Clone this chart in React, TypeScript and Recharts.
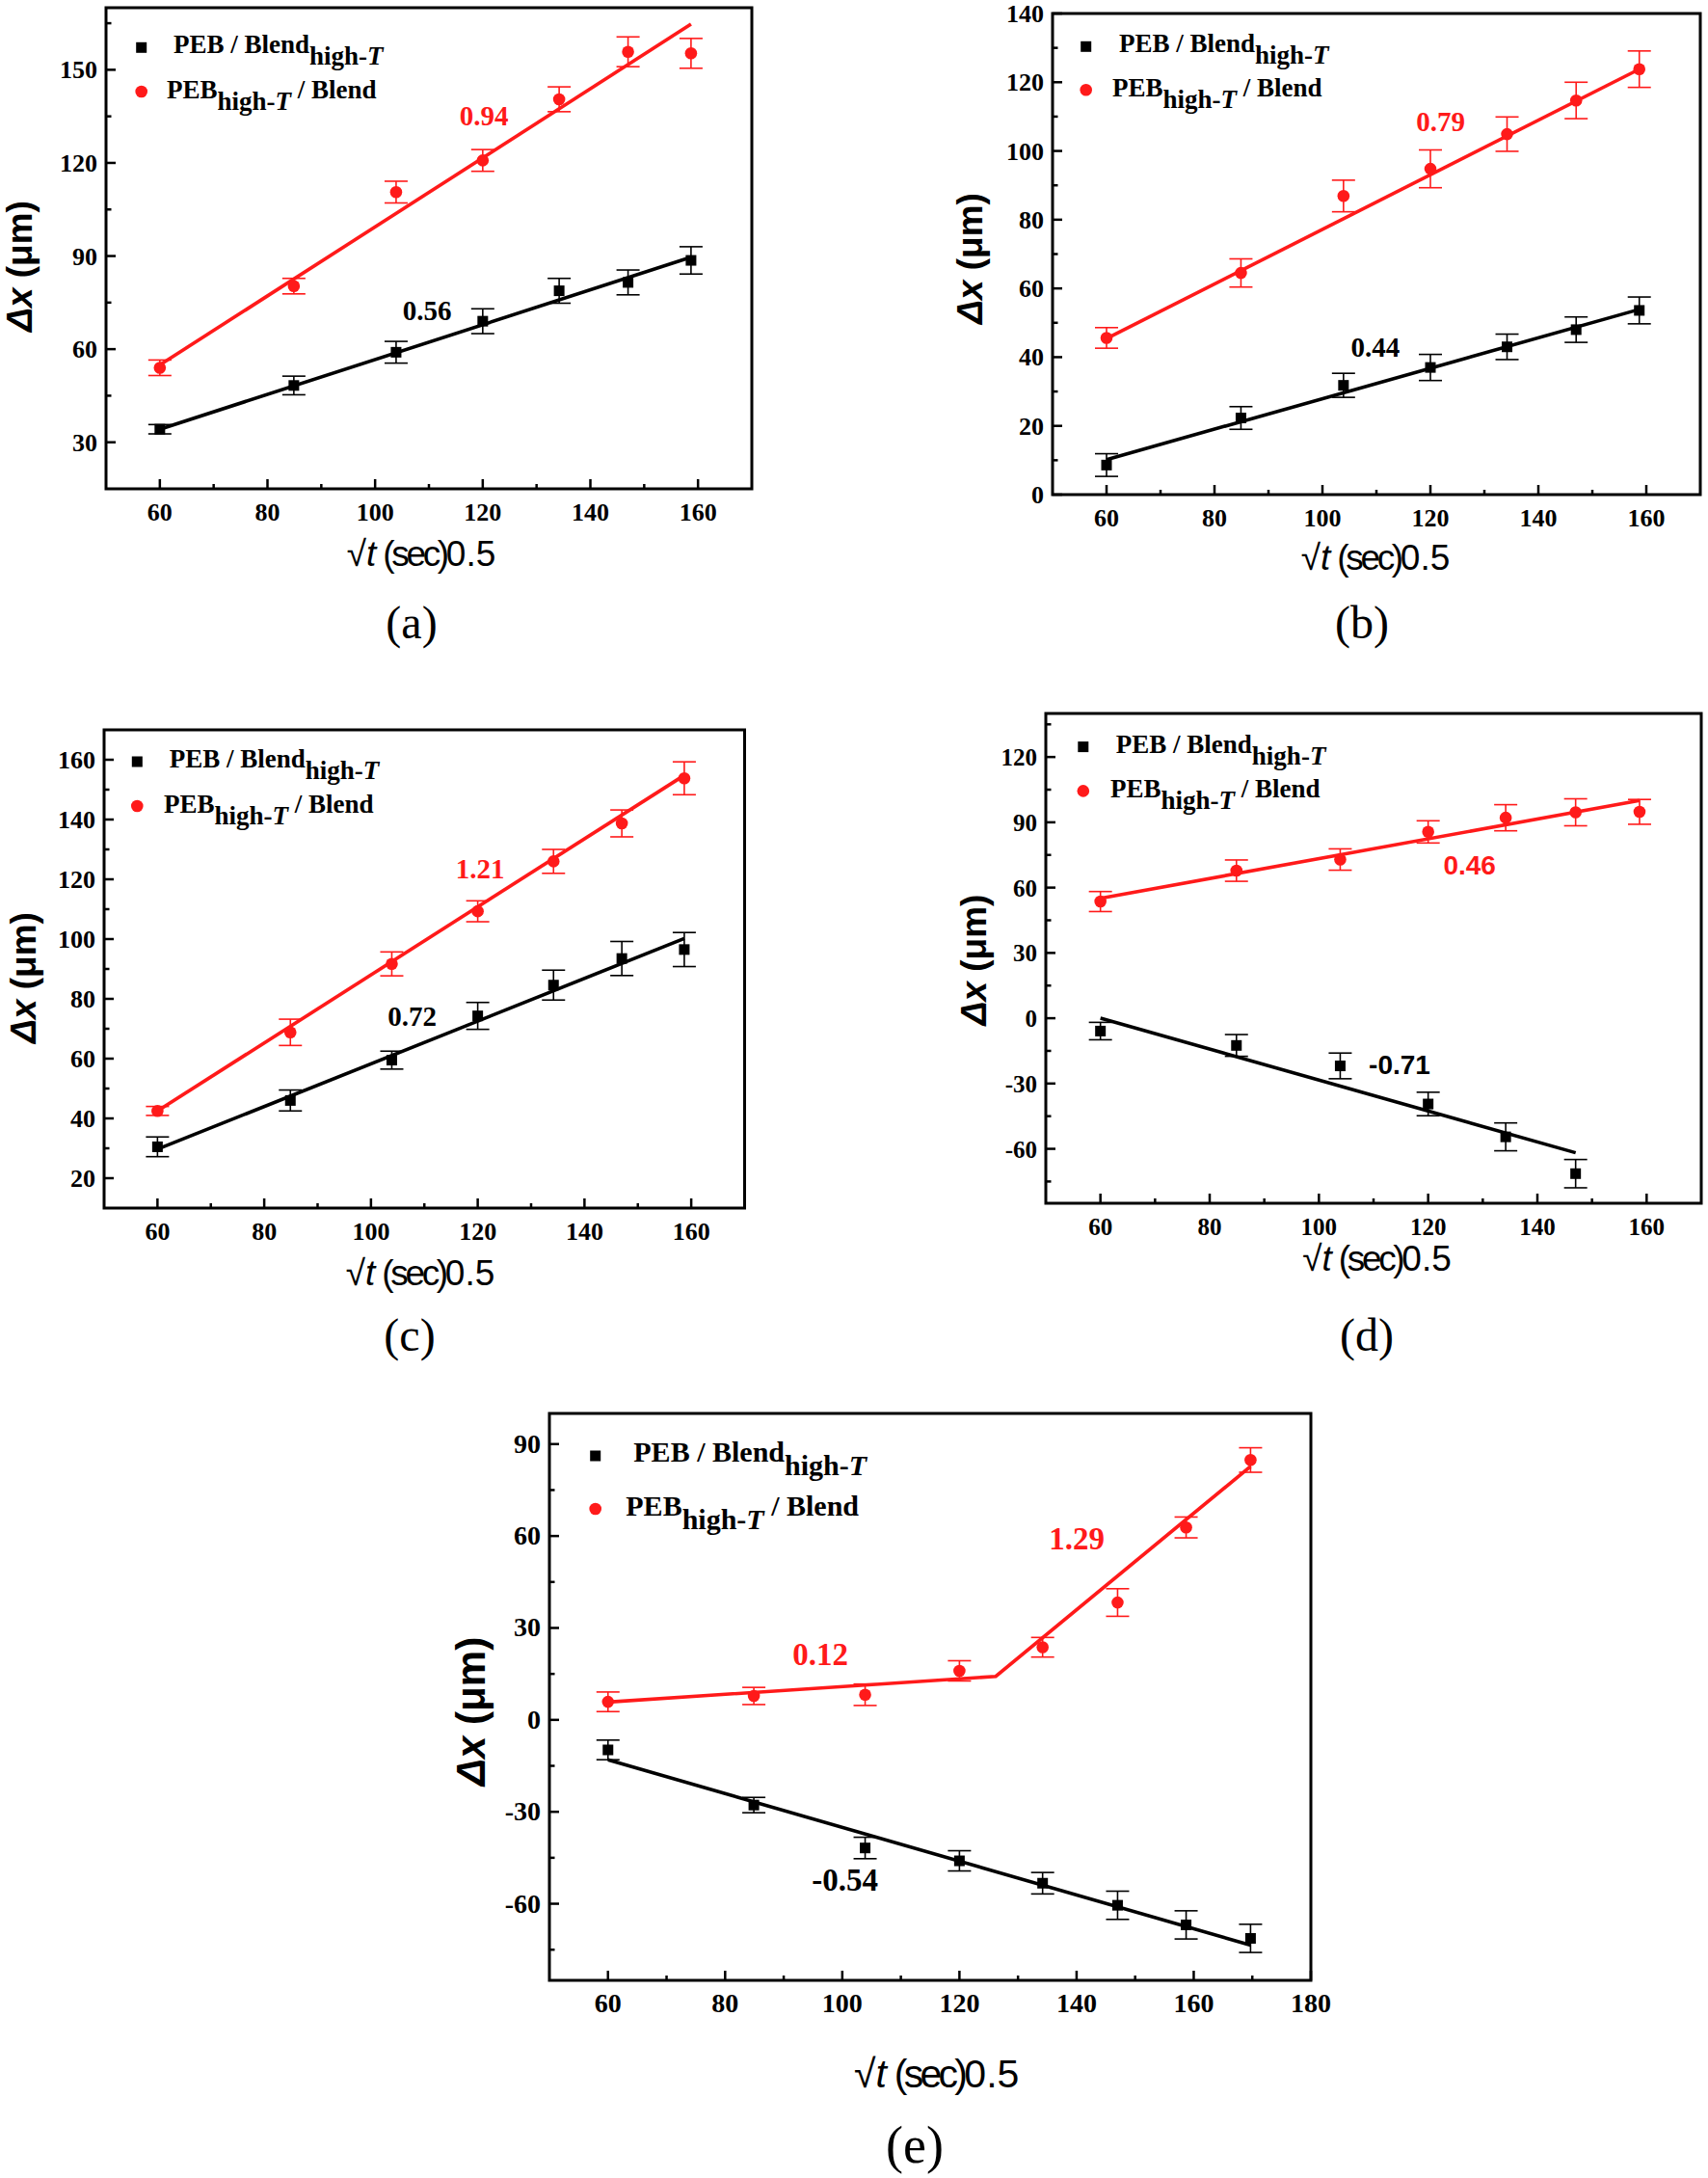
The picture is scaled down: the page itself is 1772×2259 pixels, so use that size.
import React from "react";
import {
  ComposedChart,
  Scatter,
  XAxis,
  YAxis,
  ErrorBar,
  ReferenceArea,
} from "recharts";

const RED = "#ff1a1a";
const SERIF = '"Liberation Serif", "Times New Roman", Times, serif';
const SANS = '"Liberation Sans", Arial, Helvetica, sans-serif';

// sqrt(t) positions, t = 1 h .. 8 h
const sqrtT = [60, 84.9, 103.9, 120, 134.2, 147, 158.7];
const sqrtT6 = [60, 84.9, 103.9, 120, 134.2, 147];
const sqrtT8 = [60, 84.9, 103.9, 120, 134.2, 147, 158.7, 169.7];

// (a)
const aBlack = [34.2, 48.3, 59.0, 69.0, 78.8, 81.5, 88.6];
const aBlackErr = [1.5, 3, 3.5, 4, 4, 4, 4.4];
const aRed = [54, 80.3, 110.6, 120.8, 140.5, 155.8, 155.3];
const aRedErr = [2.5, 2.5, 3.5, 3.5, 4, 4.8, 4.8];
const aFitX = [60, 158.7];
const aBlackFit = [34.2, 89.6];
const aRedFit = [54.9, 164.7];

// (b)
const bBlack = [8.6, 22.3, 31.8, 37, 43, 48, 53.6];
const bBlackErr = [3.3, 3.3, 3.5, 3.8, 3.7, 3.7, 3.9];
const bRed = [45.6, 64.5, 86.9, 94.8, 104.9, 114.7, 123.8];
const bRedErr = [3, 4.1, 4.6, 5.5, 5, 5.3, 5.3];
const bFitX = [60, 158.7];
const bBlackFit = [10.2, 53.9];
const bRedFit = [45.4, 123.8];

// (c)
const cBlack = [30.5, 46, 59.5, 74.3, 84.6, 93.5, 96.5];
const cBlackErr = [3.3, 3.5, 3, 4.5, 5, 5.7, 5.7];
const cRed = [42.5, 68.8, 91.7, 109.3, 126, 138.7, 153.8];
const cRedErr = [1.5, 4.4, 4, 3.5, 4, 4.5, 5.5];
const cFitX = [60, 158.7];
const cBlackFit = [29.7, 100.2];
const cRedFit = [42.5, 154.8];

// (d)
const dBlack = [-5.9, -12.5, -21.9, -39.4, -54.5, -71.4];
const dBlackErr = [4, 5, 5.9, 5.4, 6.4, 6.5];
const dRed = [53.6, 67.8, 72.9, 85.6, 92.1, 94.6, 94.8];
const dRedErr = [4.6, 4.9, 4.9, 5.1, 6, 6.2, 5.7];
const dBlackFitX = [60, 147];
const dBlackFit = [0, -61.8];
const dRedFitX = [60, 158.7];
const dRedFit = [55.1, 100];

// (e)
const eBlack = [-9.8, -27.8, -41.8, -46, -53.3, -60.5, -66.9, -71.3];
const eBlackErr = [3.2, 2.5, 3.5, 3.3, 3.5, 4.6, 4.6, 4.6];
const eRed = [5.9, 7.8, 8.2, 16, 23.7, 38.3, 62.8, 84.8];
const eRedErr = [3.2, 2.8, 3.5, 3.3, 3.2, 4.5, 3.4, 4];
const eBlackFitX = [60, 169.7];
const eBlackFit = [-13, -73.5];
const eRedFitX = [60, 126.2, 169.7];
const eRedFit = [5.8, 14.2, 82.7];

// ticks
const xMajor = [60, 80, 100, 120, 140, 160];
const xMinor = [70, 90, 110, 130, 150];
const eXMajor = [60, 80, 100, 120, 140, 160, 180];
const eXMinor = [70, 90, 110, 130, 150, 170];
const aYMajor = [30, 60, 90, 120, 150];
const aYMinor = [45, 75, 105, 135, 165];
const bYMajor = [0, 20, 40, 60, 80, 100, 120, 140];
const bYMinor = [10, 30, 50, 70, 90, 110, 130];
const cYMajor = [20, 40, 60, 80, 100, 120, 140, 160];
const cYMinor = [30, 50, 70, 90, 110, 130, 150];
const dYMajor = [-60, -30, 0, 30, 60, 90, 120];
const dYMinor = [-75, -45, -15, 15, 45, 75, 105, 135];
const eYMajor = [-60, -30, 0, 30, 60, 90];
const eYMinor = [-75, -45, -15, 15, 45, 75];

const pts = (xs: number[], ys: number[], es?: number[]) =>
  xs.map((x, i) => ({ x, y: ys[i], e: es ? es[i] : 0 }));

const square = (p: any) => (
  <rect x={p.cx - 5.5} y={p.cy - 5.5} width={11} height={11} fill="#000" />
);
const circle = (p: any) => <circle cx={p.cx} cy={p.cy} r={6.3} fill={RED} />;
const noDot = () => <g />;

function Panel(props: any) {
  const { box, xDomain, yDomain, xMaj, xMin, yMaj, yMin, fs } = props;
  const [x0, y0, x1, y1] = box;
  const mL = 80, mT = 14, mB = 60;
  const mR = props.mR ?? 4;
  const W = x1 - x0 + mL + mR;
  const H = y1 - y0 + mT + mB;
  const tickFont = { fontFamily: SERIF, fontWeight: 700, fontSize: fs };

  const xTick = (p: any) => {
    const major = xMaj.includes(p.payload.value);
    return (
      <g>
        <line x1={p.x} x2={p.x} y1={p.y} y2={p.y - (major ? 10 : 5)} stroke="#000" strokeWidth={2.5} />
        {major && (
          <text x={p.x} y={p.y + 33} textAnchor="middle" fill="#000" fontFamily={SERIF} fontWeight="bold" fontSize={fs} style={tickFont}>
            {p.payload.value}
          </text>
        )}
      </g>
    );
  };
  const yTick = (p: any) => {
    const major = yMaj.includes(p.payload.value);
    return (
      <g>
        <line x1={p.x} x2={p.x + (major ? 10 : 5.5)} y1={p.y} y2={p.y} stroke="#000" strokeWidth={2.5} />
        {major && (
          <text x={p.x - 9} y={p.y + 9} textAnchor="end" fill="#000" fontFamily={SERIF} fontWeight="bold" fontSize={fs} style={tickFont}>
            {p.payload.value}
          </text>
        )}
      </g>
    );
  };

  return (
    <div style={{ position: "absolute", left: x0 - mL, top: y0 - mT }}>
      <ComposedChart width={W} height={H} margin={{ top: mT, right: mR, left: 0, bottom: 0 }}>
        <XAxis
          type="number"
          dataKey="x"
          domain={xDomain}
          allowDataOverflow
          ticks={[...xMaj, ...xMin]}
          interval={0}
          height={mB}
          tickSize={0}
          tickMargin={0}
          axisLine={false}
          tickLine={false}
          tick={xTick}
        />
        <YAxis
          type="number"
          dataKey="y"
          domain={yDomain}
          allowDataOverflow
          ticks={[...yMaj, ...yMin]}
          interval={0}
          width={mL}
          tickSize={0}
          tickMargin={0}
          axisLine={false}
          tickLine={false}
          tick={yTick}
        />
        <ReferenceArea
          x1={xDomain[0]}
          x2={xDomain[1]}
          y1={yDomain[0]}
          y2={yDomain[1]}
          fill="none"
          fillOpacity={0}
          stroke="#000"
          strokeWidth={3}
        />
        <Scatter data={props.blackFit} dataKey="y" line={{ stroke: "#000", strokeWidth: 3.6 }} shape={noDot} legendType="none" isAnimationActive={false} />
        <Scatter data={props.redFit} dataKey="y" line={{ stroke: RED, strokeWidth: 3.6 }} shape={noDot} legendType="none" isAnimationActive={false} />
        <Scatter data={props.black} dataKey="y" shape={square} isAnimationActive={false}>
          <ErrorBar dataKey="e" direction="y" width={12} strokeWidth={1.6} stroke="#000" />
        </Scatter>
        <Scatter data={props.red} dataKey="y" shape={circle} isAnimationActive={false}>
          <ErrorBar dataKey="e" direction="y" width={12} strokeWidth={1.6} stroke={RED} />
        </Scatter>
      </ComposedChart>
    </div>
  );
}

// text placement per panel
const texts = [
  {
    sq: [146.7, 49.3], ci: [146.7, 95], tx1: 180, tx2: 173, lf: 27,
    xt: [437, 575, 37], yt: [22, 276, 37], tag: ["(a)", 427, 648, 48],
    notes: [
      { t: "0.94", x: 502, y: 120, c: RED, f: SERIF, s: 29 },
      { t: "0.56", x: 443, y: 322, c: "#000", f: SERIF, s: 29 },
    ],
  },
  {
    sq: [1126.7, 48.3], ci: [1126.7, 93.3], tx1: 1161, tx2: 1154, lf: 27,
    xt: [1427, 579, 37], yt: [1008, 268, 37], tag: ["(b)", 1413, 648, 48],
    notes: [
      { t: "0.79", x: 1494.7, y: 126, c: RED, f: SERIF, s: 29 },
      { t: "0.44", x: 1426.8, y: 360, c: "#000", f: SERIF, s: 29 },
    ],
  },
  {
    sq: [142.3, 790], ci: [142.3, 836], tx1: 175.7, tx2: 170, lf: 27,
    xt: [436, 1321, 37], yt: [26, 1014, 37], tag: ["(c)", 425, 1387, 48],
    notes: [
      { t: "1.21", x: 498, y: 901, c: RED, f: SERIF, s: 29 },
      { t: "0.72", x: 427.5, y: 1053.5, c: "#000", f: SERIF, s: 29 },
    ],
  },
  {
    sq: [1123.8, 774.6], ci: [1123.8, 820.4], tx1: 1157.8, tx2: 1152, lf: 27,
    xt: [1428.5, 1306.5, 37], yt: [1011.7, 995.5, 37], tag: ["(d)", 1418, 1387, 48],
    notes: [
      { t: "0.46", x: 1524.7, y: 896.5, c: RED, f: SANS, s: 28 },
      { t: "-0.71", x: 1452, y: 1104, c: "#000", f: SANS, s: 28 },
    ],
  },
  {
    sq: [617.7, 1510], ci: [617.7, 1565], tx1: 657.3, tx2: 649.3, lf: 30,
    xt: [971.7, 2152, 41], yt: [490.4, 1775, 42], tag: ["(e)", 949, 2229, 54],
    notes: [
      { t: "0.12", x: 851, y: 1717, c: RED, f: SERIF, s: 33 },
      { t: "1.29", x: 1117, y: 1596.5, c: RED, f: SERIF, s: 33 },
      { t: "-0.54", x: 876.6, y: 1950.5, c: "#000", f: SERIF, s: 33 },
    ],
  },
];

function Overlay() {
  return (
    <svg width={1772} height={2259} style={{ position: "absolute", left: 0, top: 0, pointerEvents: "none" }}>
      {texts.map((p, i) => {
        const sub = Math.round(p.lf * 0.45);
        const xf = p.xt[2];
        return (
          <g key={i}>
            <rect x={p.sq[0] - 5.5} y={p.sq[1] - 5.5} width={11} height={11} fill="#000" />
            <text x={p.tx1} y={p.sq[1] + 6} fontFamily={SERIF} fontWeight="bold" fontSize={p.lf} fill="#000">
              PEB / Blend
              <tspan dy={sub}>high-</tspan>
              <tspan fontStyle="italic">T</tspan>
            </text>
            <circle cx={p.ci[0]} cy={p.ci[1]} r={6.3} fill={RED} />
            <text x={p.tx2} y={p.ci[1] + 7} fontFamily={SERIF} fontWeight="bold" fontSize={p.lf} fill="#000">
              PEB
              <tspan dy={sub}>high-</tspan>
              <tspan fontStyle="italic">T</tspan>
              <tspan dy={-sub}> / Blend</tspan>
            </text>
            <text x={p.xt[0]} y={p.xt[1] + xf * 0.32} textAnchor="middle" fontFamily={SANS} fontSize={xf} fill="#000">
              √<tspan fontStyle="italic">t</tspan>
              <tspan letterSpacing={-xf * 0.09}> (sec)</tspan>
              <tspan>0.5</tspan>
            </text>
            <text
              transform={`translate(${p.yt[0]},${p.yt[1]}) rotate(-90)`}
              x={0}
              y={p.yt[2] * 0.3}
              textAnchor="middle"
              fontFamily={SANS}
              fontWeight="bold"
              fontSize={p.yt[2]}
              fill="#000"
            >
              <tspan fontStyle="italic">Δx</tspan> (μm)
            </text>
            <text
              x={p.tag[1] as number}
              y={(p.tag[2] as number) + 14}
              textAnchor="middle"
              fontFamily={SERIF}
              fontSize={p.tag[3] as number}
              fill="#000"
            >
              {p.tag[0]}
            </text>
            {p.notes.map((n, j) => (
              <text key={j} x={n.x} y={n.y + 10} textAnchor="middle" fontFamily={n.f} fontWeight="bold" fontSize={n.s} fill={n.c}>
                {n.t}
              </text>
            ))}
          </g>
        );
      })}
    </svg>
  );
}

export default function App() {
  return (
    <div style={{ position: "absolute", left: 0, top: 0, width: 1772, height: 2259, overflow: "hidden", background: "#fff" }}>
      <Panel
        box={[110, 8, 780, 507]}
        xDomain={[50, 170]}
        yDomain={[15, 170]}
        xMaj={xMajor}
        xMin={xMinor}
        yMaj={aYMajor}
        yMin={aYMinor}
        fs={26}
        mR={30}
        black={pts(sqrtT, aBlack, aBlackErr)}
        red={pts(sqrtT, aRed, aRedErr)}
        blackFit={pts(aFitX, aBlackFit)}
        redFit={pts(aFitX, aRedFit)}
      />
      <Panel
        box={[1092, 14, 1764, 513]}
        xDomain={[50, 170]}
        yDomain={[0, 140]}
        xMaj={xMajor}
        xMin={xMinor}
        yMaj={bYMajor}
        yMin={bYMinor}
        fs={26}
        black={pts(sqrtT, bBlack, bBlackErr)}
        red={pts(sqrtT, bRed, bRedErr)}
        blackFit={pts(bFitX, bBlackFit)}
        redFit={pts(bFitX, bRedFit)}
      />
      <Panel
        box={[107.5, 757, 772, 1253]}
        xDomain={[50, 170]}
        yDomain={[10, 170]}
        xMaj={xMajor}
        xMin={xMinor}
        yMaj={cYMajor}
        yMin={cYMinor}
        fs={26}
        mR={30}
        black={pts(sqrtT, cBlack, cBlackErr)}
        red={pts(sqrtT, cRed, cRedErr)}
        blackFit={pts(cFitX, cBlackFit)}
        redFit={pts(cFitX, cRedFit)}
      />
      <Panel
        box={[1085, 740, 1765, 1248]}
        xDomain={[50, 170]}
        yDomain={[-85, 140]}
        xMaj={xMajor}
        xMin={xMinor}
        yMaj={dYMajor}
        yMin={dYMinor}
        fs={25}
        black={pts(sqrtT6, dBlack, dBlackErr)}
        red={pts(sqrtT, dRed, dRedErr)}
        blackFit={pts(dBlackFitX, dBlackFit)}
        redFit={pts(dRedFitX, dRedFit)}
      />
      <Panel
        box={[570, 1466, 1360, 2054]}
        xDomain={[50, 180]}
        yDomain={[-85, 100]}
        xMaj={eXMajor}
        xMin={eXMinor}
        yMaj={eYMajor}
        yMin={eYMinor}
        fs={28}
        mR={40}
        black={pts(sqrtT8, eBlack, eBlackErr)}
        red={pts(sqrtT8, eRed, eRedErr)}
        blackFit={pts(eBlackFitX, eBlackFit)}
        redFit={pts(eRedFitX, eRedFit)}
      />
      <Overlay />
    </div>
  );
}
